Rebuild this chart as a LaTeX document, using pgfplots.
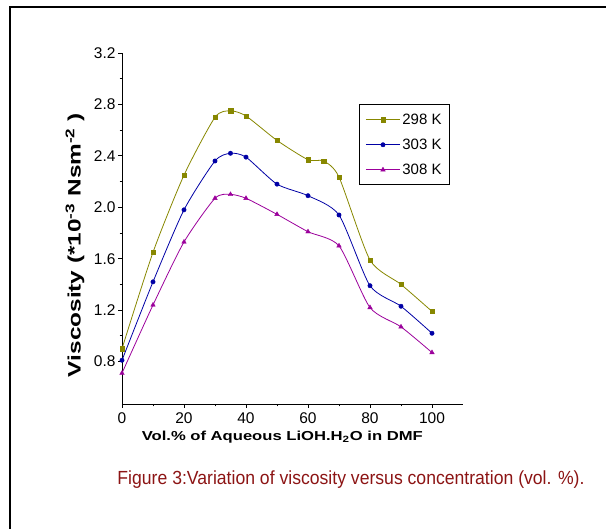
\documentclass[border=0pt]{standalone}
\usepackage{pgfplots}
\pgfplotsset{compat=1.18}
\usepackage{graphicx}
\usepackage{fontspec}
\setmainfont{Liberation Sans}
\definecolor{c298}{RGB}{135,135,0}
\definecolor{c303}{RGB}{0,0,165}
\definecolor{c308}{RGB}{155,0,155}
\definecolor{capred}{RGB}{140,20,20}
\begin{document}
\begin{tikzpicture}[x=1pt,y=1pt]
\useasboundingbox (0,0) rectangle (606,529);
\clip (0,0) rectangle (606,529);
\draw[line width=2.5pt] (10,-10) |- (620,522);
\begin{axis}[
  scale only axis,
  width=341pt, height=351pt,
  at={(122pt,125pt)}, anchor=south west,
  xmin=0, xmax=110, ymin=0.47, ymax=3.2,
  axis lines=left,
  axis line style={-, line width=0.8pt},
  tick align=outside,
  xtick={0,20,40,60,80,100},
  ytick={0.8,1.2,1.6,2.0,2.4,2.8,3.2},
  minor tick num=1,
  major tick length=4pt, minor tick length=2.5pt,
  tick style={black, line width=0.8pt},
  /pgf/number format/assume math mode=true,
  /pgf/number format/fixed, /pgf/number format/fixed zerofill,
  yticklabel style={/pgf/number format/precision=1, font=\fontsize{15.5}{17}\selectfont, xshift=1pt},
  xticklabel style={/pgf/number format/precision=0, font=\fontsize{15.5}{17}\selectfont, yshift=-1pt},
  xlabel={\resizebox{281pt}{\height}{\textbf{Vol.\% of Aqueous LiOH.H\textsubscript{2}O in DMF}}},
  xlabel style={font=\fontsize{13}{15}\selectfont, at={(axis description cs:0.47,-0.094)}, anchor=center},
  ylabel={\resizebox{264pt}{\height}{\textbf{Viscosity (*10\textsuperscript{-3} Nsm\textsuperscript{-2} )}}},
  ylabel style={font=\fontsize{18}{20}\selectfont, at={(axis description cs:-0.138,0.453)}, anchor=center},
  legend style={at={(axis cs:105.8,2.80)}, anchor=north east, draw=black, line width=0.8pt,
    font=\fontsize{15}{17}\selectfont, row sep=9pt, inner xsep=6pt, inner ysep=7pt},
  legend cell align=left,
  legend image code/.code={\draw[mark repeat=2, mark phase=2] plot coordinates {(0pt,0pt) (17pt,0pt) (34pt,0pt)};},
  every axis plot/.append style={line width=0.8pt, smooth, tension=0.4},
]
\addplot[color=c298, mark=square*, mark size=2.2pt, mark options={solid, line width=0.4pt}] coordinates {
(0,0.90) (10,1.65) (20,2.25) (30,2.70) (35,2.75) (40,2.71) (50,2.52) (60,2.37) (65,2.36) (70,2.235) (80,1.59) (90,1.40) (100,1.19)};
\addlegendentry{298 K}
\addplot[color=c303, mark=*, mark size=2.2pt, mark options={solid, line width=0.4pt}] coordinates {
(0,0.81) (10,1.42) (20,1.98) (30,2.36) (35,2.42) (40,2.39) (50,2.18) (60,2.09) (70,1.94) (80,1.39) (90,1.23) (100,1.02)};
\addlegendentry{303 K}
\addplot[color=c308, mark=triangle*, mark size=2.6pt, mark options={solid, line width=0.4pt}] coordinates {
(0,0.71) (10,1.24) (20,1.73) (30,2.07) (35,2.10) (40,2.07) (50,1.945) (60,1.81) (70,1.70) (80,1.22) (90,1.07) (100,0.87)};
\addlegendentry{308 K}
\end{axis}
\node[anchor=base, color=capred, inner sep=0pt] at (351,44)
  {\resizebox{467pt}{\height}{\fontsize{19}{22}\selectfont Figure 3:Variation of viscosity versus concentration (vol. \%).}};
\end{tikzpicture}
\end{document}
